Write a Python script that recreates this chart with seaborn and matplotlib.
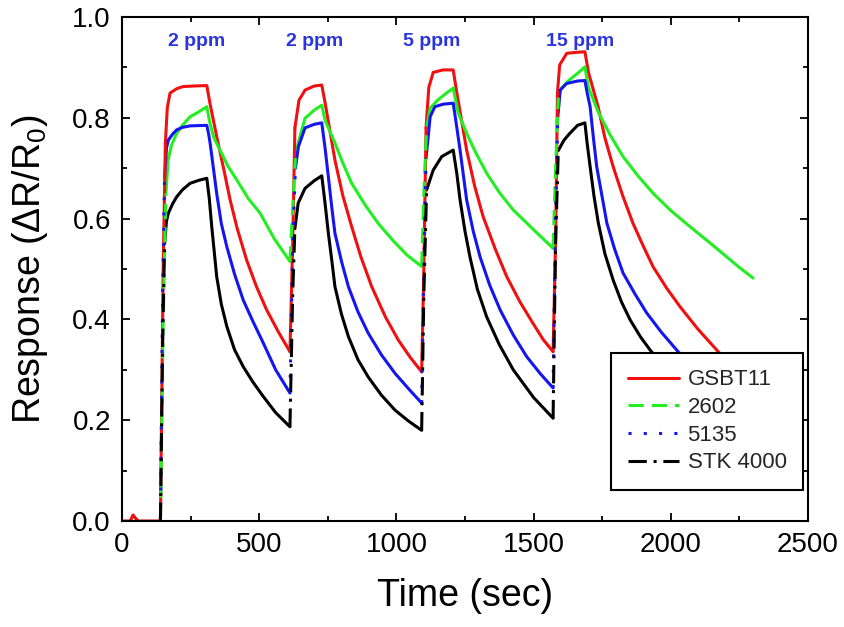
import matplotlib
matplotlib.use("Agg")
import matplotlib.pyplot as plt
import seaborn as sns
import pandas as pd
from matplotlib.lines import Line2D
from matplotlib.ticker import MultipleLocator

# ---------------- data ----------------
sensors = ["GSBT11", "2602", "5135", "STK 4000"]

t_gsbt11 = [0, 30, 40, 50, 60, 140, 150, 158, 165, 175, 200, 223, 260, 309,
            320, 345, 370, 394, 420, 454, 490, 527, 570, 612,
            622, 630, 645, 667, 700, 728,
            740, 776, 805, 837, 870, 910, 960, 1007, 1050, 1092,
            1100, 1108, 1118, 1134, 1170, 1207,
            1220, 1256, 1285, 1316, 1360, 1402, 1450, 1498, 1535, 1571,
            1580, 1587, 1595, 1621, 1660, 1687,
            1700, 1735, 1760, 1790, 1825, 1862, 1900, 1936, 1985, 2034, 2100, 2168, 2230, 2300]
r_gsbt11 = [0, 0, 0.012, 0.005, 0, 0, 0.5, 0.75, 0.82, 0.849, 0.858, 0.862, 0.863, 0.864,
            0.83, 0.763, 0.70, 0.637, 0.58, 0.518, 0.465, 0.419, 0.375, 0.336,
            0.55, 0.78, 0.835, 0.855, 0.863, 0.865,
            0.83, 0.716, 0.645, 0.584, 0.525, 0.465, 0.405, 0.359, 0.325, 0.296,
            0.5, 0.78, 0.86, 0.89, 0.895, 0.895,
            0.85, 0.736, 0.665, 0.604, 0.54, 0.485, 0.435, 0.392, 0.36, 0.336,
            0.55, 0.85, 0.905, 0.928, 0.93, 0.931,
            0.89, 0.822, 0.76, 0.703, 0.645, 0.591, 0.545, 0.504, 0.462, 0.425, 0.38, 0.339, 0.30, 0.27]

t_2602 = [0, 140, 150, 160, 168, 180, 199, 220, 248, 280, 309,
          320, 335, 357, 385, 418, 460, 503, 555, 612,
          622, 632, 642, 667, 700, 728,
          740, 776, 805, 837, 885, 933, 990, 1040, 1092,
          1100, 1110, 1123, 1150, 1180, 1207,
          1225, 1256, 1290, 1329, 1375, 1426, 1500, 1571,
          1580, 1590, 1600, 1630, 1660, 1687,
          1700, 1735, 1780, 1826, 1880, 1936, 2000, 2070, 2140, 2204, 2250, 2300]
r_2602 = [0, 0, 0.4, 0.65, 0.716, 0.745, 0.769, 0.785, 0.802, 0.812, 0.822,
          0.79, 0.76, 0.736, 0.705, 0.677, 0.64, 0.611, 0.56, 0.515,
          0.62, 0.72, 0.75, 0.799, 0.815, 0.825,
          0.795, 0.75, 0.71, 0.67, 0.628, 0.591, 0.555, 0.527, 0.505,
          0.65, 0.78, 0.819, 0.835, 0.848, 0.859,
          0.81, 0.769, 0.73, 0.69, 0.652, 0.617, 0.578, 0.541,
          0.70, 0.84, 0.858, 0.875, 0.888, 0.901,
          0.86, 0.812, 0.765, 0.723, 0.685, 0.65, 0.616, 0.584, 0.553, 0.524, 0.503, 0.482]

t_5135 = [0, 140, 148, 155, 162, 169, 185, 199, 220, 248, 309,
          315, 321, 333, 345, 362, 382, 410, 442, 478, 515, 560, 612,
          622, 632, 643, 667, 700, 728,
          740, 752, 765, 776, 800, 825, 860, 897, 945, 995, 1045, 1092,
          1100, 1108, 1123, 1140, 1170, 1207,
          1215, 1232, 1256, 1280, 1305, 1340, 1378, 1425, 1475, 1525, 1571,
          1580, 1588, 1597, 1620, 1660, 1687,
          1695, 1706, 1718, 1730, 1767, 1795, 1826, 1870, 1912, 1965, 2022, 2100, 2200, 2300]
r_5135 = [0, 0, 0.45, 0.68, 0.74, 0.756, 0.768, 0.776, 0.781, 0.784, 0.785,
          0.77, 0.75, 0.70, 0.65, 0.59, 0.544, 0.49, 0.438, 0.395, 0.353, 0.30, 0.254,
          0.55, 0.70, 0.743, 0.78, 0.787, 0.79,
          0.74, 0.683, 0.62, 0.571, 0.515, 0.465, 0.415, 0.373, 0.33, 0.293, 0.262, 0.234,
          0.5, 0.72, 0.802, 0.822, 0.827, 0.829,
          0.80, 0.736, 0.637, 0.575, 0.524, 0.468, 0.419, 0.37, 0.326, 0.292, 0.264,
          0.6, 0.80, 0.855, 0.868, 0.873, 0.874,
          0.85, 0.822, 0.76, 0.703, 0.591, 0.54, 0.492, 0.45, 0.413, 0.375, 0.339, 0.29, 0.24, 0.20]

t_stk4000 = [0, 140, 148, 155, 162, 169, 185, 199, 220, 248, 280, 309,
             318, 327, 336, 345, 362, 382, 410, 442, 478, 515, 560, 612,
             622, 630, 642, 667, 700, 728,
             740, 752, 765, 776, 800, 825, 860, 897, 945, 995, 1045, 1092,
             1100, 1110, 1134, 1165, 1207,
             1220, 1232, 1250, 1268, 1295, 1329, 1375, 1426, 1500, 1571,
             1580, 1590, 1610, 1630, 1660, 1687,
             1695, 1706, 1720, 1736, 1760, 1790, 1820, 1852, 1890, 1925, 2000, 2100, 2200, 2300]
r_stk4000 = [0, 0, 0.35, 0.55, 0.595, 0.611, 0.63, 0.643, 0.657, 0.67, 0.676, 0.68,
             0.64, 0.584, 0.535, 0.485, 0.43, 0.386, 0.34, 0.306, 0.275, 0.247, 0.215, 0.187,
             0.45, 0.58, 0.631, 0.66, 0.675, 0.685,
             0.63, 0.571, 0.515, 0.465, 0.41, 0.366, 0.32, 0.286, 0.25, 0.22, 0.198, 0.18,
             0.45, 0.657, 0.696, 0.723, 0.736,
             0.69, 0.637, 0.575, 0.524, 0.46, 0.405, 0.35, 0.30, 0.245, 0.204,
             0.55, 0.735, 0.755, 0.768, 0.785, 0.79,
             0.75, 0.703, 0.645, 0.591, 0.53, 0.478, 0.435, 0.399, 0.365, 0.339, 0.29, 0.24, 0.20, 0.17]

ppm_labels = ["2 ppm", "2 ppm", "5 ppm", "15 ppm"]
ppm_label_times = [272, 703, 1128, 1671]
ppm_label_level = 0.952

# gas switching windows (vertical rises drawn in the series' line style)
rise_windows = [(138, 160), (608, 632), (1088, 1112), (1566, 1592)]

x_ticks = [0, 500, 1000, 1500, 2000, 2500]
y_ticks = [0.0, 0.2, 0.4, 0.6, 0.8, 1.0]

series = {
    "GSBT11": (t_gsbt11, r_gsbt11),
    "2602": (t_2602, r_2602),
    "5135": (t_5135, r_5135),
    "STK 4000": (t_stk4000, r_stk4000),
}

# ---------------- styling ----------------
colors = {"GSBT11": "#f01010", "2602": "#22ee22", "5135": "#1515f0", "STK 4000": "#000000"}
dash_map = {"GSBT11": "", "2602": (5, 2.6), "5135": (1, 4), "STK 4000": (6, 2.2, 1, 2.2)}
LW = 2.2

sns.set_theme(style="ticks")
plt.rcParams["font.family"] = ["Liberation Sans", "DejaVu Sans"]
plt.rcParams["mathtext.fontset"] = "custom"
plt.rcParams["mathtext.rm"] = "Liberation Sans"
plt.rcParams["mathtext.it"] = "Liberation Sans:italic"
plt.rcParams["mathtext.bf"] = "Liberation Sans:bold"


def in_window(t):
    return any(a <= t <= b for a, b in rise_windows)


rows = []
piece_id = 0
for name in sensors:
    ts, vs = series[name]
    kinds = ["rise" if (in_window(ts[i]) and in_window(ts[i + 1])) else "curve"
             for i in range(len(ts) - 1)]
    start = 0
    for i in range(1, len(kinds) + 1):
        if i == len(kinds) or kinds[i] != kinds[start]:
            for j in range(start, i + 1):
                rows.append({"time": ts[j], "response": vs[j], "sensor": name,
                             "piece": piece_id, "kind": kinds[start]})
            piece_id += 1
            start = i
df = pd.DataFrame(rows)

fig = plt.figure(figsize=(8.45, 6.27), dpi=100)
ax = fig.add_axes([0.1444, 0.169, 0.8118, 0.8039])

sns.lineplot(data=df[df.kind == "curve"], x="time", y="response", hue="sensor",
             hue_order=sensors, palette=colors, units="piece", estimator=None,
             linewidth=LW, legend=False, ax=ax)
sns.lineplot(data=df[df.kind == "rise"], x="time", y="response", hue="sensor",
             hue_order=sensors, palette=colors, style="sensor", style_order=sensors,
             dashes=dash_map, units="piece", estimator=None,
             linewidth=LW, legend=False, ax=ax)

for lab, tt in zip(ppm_labels, ppm_label_times):
    ax.text(tt, ppm_label_level, lab, color="#2a35e0", fontsize=14,
            fontweight="bold", ha="center", va="center")

ax.set_xlim(0, 2500)
ax.set_ylim(0, 1.0)
ax.set_xticks(x_ticks)
ax.set_yticks(y_ticks)
ax.set_yticklabels([f"{v:.1f}" for v in y_ticks])
ax.xaxis.set_minor_locator(MultipleLocator(250))
ax.yaxis.set_minor_locator(MultipleLocator(0.1))
ax.tick_params(which="both", direction="in", top=True, right=True,
               labelsize=20, pad=8, width=1.3, color="black", labelcolor="black")
ax.tick_params(which="major", length=6)
ax.tick_params(which="minor", length=3.5)
for s in ax.spines.values():
    s.set_linewidth(1.5)
    s.set_color("black")

ax.set_xlabel("Time (sec)", fontsize=27, labelpad=14, color="black")
ax.set_ylabel(r"Response ($\Delta$R/R$_{\mathregular{0}}$)", fontsize=27, labelpad=16, color="black")

handles = []
for name in sensors:
    d = dash_map[name]
    if d == "":
        h = Line2D([], [], color=colors[name], lw=LW, linestyle="-")
    else:
        h = Line2D([], [], color=colors[name], lw=LW, dashes=d)
    handles.append(h)
leg = ax.legend(handles, sensors, loc="lower right", bbox_to_anchor=(0.993, 0.0615),
                borderaxespad=0, fontsize=16, frameon=True, fancybox=False,
                handlelength=2.3, handletextpad=0.4, labelspacing=0.3,
                borderpad=0.75, framealpha=1)
leg.get_frame().set_edgecolor("black")
leg.get_frame().set_linewidth(1.5)

fig.savefig("out.png", dpi=100)
